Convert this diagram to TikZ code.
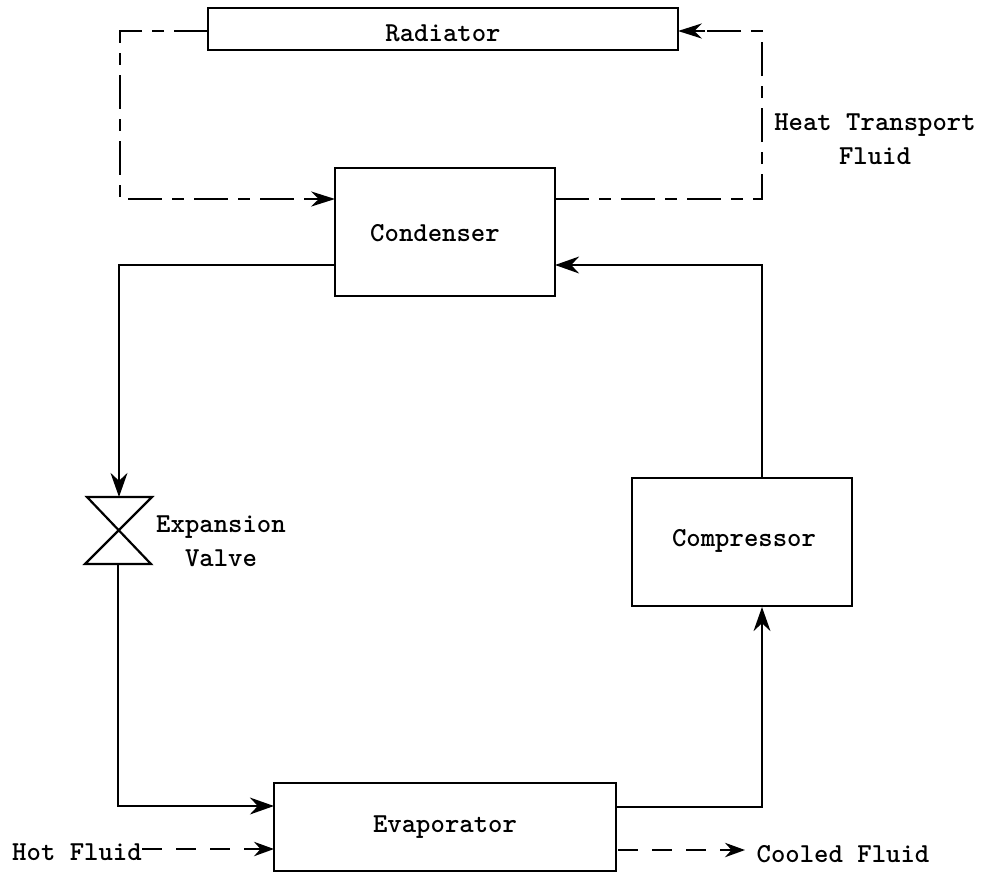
\documentclass[tikz,border=0pt]{standalone}
\usepackage{fontspec}
\usetikzlibrary{arrows.meta}
\tikzset{
    blockbox/.style={draw, line width=0.7mm, inner sep=0pt},
    flow/.style={line width=0.7mm, -{Stealth[length=6mm,width=4.2mm]}},
    transport/.style={line width=0.45mm, dash pattern=on 8.5mm off 2.5mm on 3mm off 2.5mm},
    tiparrow/.style={line width=0.45mm, -{Stealth[length=6mm,width=3.8mm]}},
    fluid/.style={line width=0.45mm, dash pattern=on 5mm off 3.5mm, -{Stealth[length=5mm,width=3.6mm]}},
    label/.style={font=\fontsize{19.5}{24}\selectfont\ttfamily\bfseries, inner sep=0pt, align=center}
}
\begin{document}
\begin{tikzpicture}[x=0.25mm, y=-0.25mm]
    \useasboundingbox (0,0) rectangle (982,875);

    % Blokken
    \node[blockbox, minimum width=117.5mm, minimum height=10.5mm] (radiator) at (443,29) {};
    \node[label] (radiatortext) at (443,33) {Radiator};
    \node[blockbox, minimum width=55mm, minimum height=32mm] (condenser) at (445,232) {};
    \node[label] (condensertext) at (435,233) {Condenser};
    \node[blockbox, minimum width=55mm, minimum height=32mm] (compressor) at (742,542) {};
    \node[label] (compressortext) at (744,541) {Compressor};
    \node[blockbox, minimum width=85.5mm, minimum height=22mm] (evaporator) at (445,827) {};
    \node[label] (evaporatortext) at (445,827) {Evaporator};

    % Expansieklep
    \coordinate (valvetop) at (119,497);
    \coordinate (valvebottom) at (118,564);
    \draw[line width=0.55mm, line join=miter] (87,497) -- (152,497) -- (85,564) -- (151,564) -- cycle;
    \node[label] (valvetext) at (221,541) {Expansion\\Valve};

    % Koelmiddel
    \coordinate (condenserout) at (335,265);
    \coordinate (condenserin) at (555,265);
    \coordinate (evaporatorin) at (274,806);
    \coordinate (evaporatorout) at (616,807);
    \coordinate (compressorin) at (762,607);
    \coordinate (compressorout) at (762,478);
    \draw[flow] (condenserout) -- (119,265) -- (valvetop);
    \draw[flow] (valvebottom) -- (118,806) -- (evaporatorin);
    \draw[flow] (evaporatorout) -- (762,807) -- (compressorin);
    \draw[flow] (compressorout) -- (762,265) -- (condenserin);

    % Warmtetransport
    \coordinate (radiatorout) at (208,31);
    \coordinate (radiatorin) at (678,31);
    \coordinate (condenserleft) at (335,199);
    \coordinate (condenserright) at (555,199);
    \draw[transport] (radiatorout) -- (120,31) -- (120,199) -- (310,199);
    \draw[tiparrow] (310,199) -- (condenserleft);
    \draw[transport] (condenserright) -- (762,199) -- (762,31) -- (705,31);
    \draw[tiparrow] (705,31) -- (radiatorin);
    \node[label] (transporttext) at (875,139) {Heat Transport\\Fluid};

    % Warme en gekoelde vloeistof
    \node[label] (hotfluid) at (77,852) {Hot Fluid};
    \node[label] (cooledfluid) at (843,854) {Cooled Fluid};
    \coordinate (evaporatorhot) at (274,849);
    \coordinate (evaporatorcold) at (618,850);
    \coordinate (coldend) at (745,850);
    \draw[fluid] (hotfluid.east |- evaporatorhot) -- (evaporatorhot);
    \draw[fluid] (evaporatorcold) -- (coldend);
\end{tikzpicture}
\end{document}
